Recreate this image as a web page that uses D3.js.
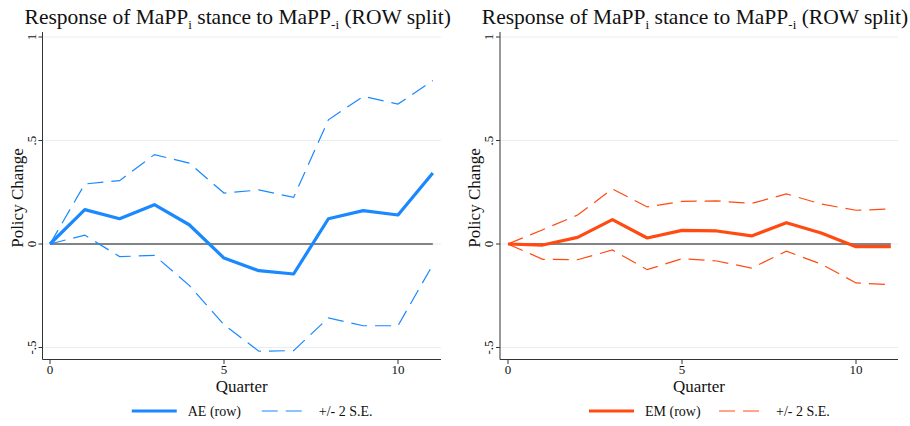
<!DOCTYPE html><html><head><meta charset="utf-8"><script src="https://cdn.jsdelivr.net/npm/d3@7"></script>
<style>body{margin:0;background:#fff}text{font-family:"Liberation Serif","DejaVu Serif",serif;fill:#111}</style></head><body>
<svg id="c" width="910" height="426"></svg>
<script>
const quarters=[0,1,2,3,4,5,6,7,8,9,10,11];
const yTicks=[-0.5,0,0.5,1];
const yTickLabels=["-.5","0",".5","1"];
const xTicks=[0,5,10];
const aeMain=[0,.166,.122,.19,.093,-.068,-.129,-.145,.122,.161,.14,.343];
const aeUpper=[0,.29,.306,.432,.391,.246,.261,.225,.60,.713,.676,.79];
const aeLower=[0,.043,-.061,-.055,-.2,-.39,-.518,-.515,-.357,-.395,-.395,-.1];
const emMain=[0,-.005,.032,.118,.029,.066,.063,.039,.103,.053,-.013,-.013];
const emUpper=[0,.069,.14,.266,.179,.206,.208,.196,.242,.193,.163,.169];
const emLower=[0,-.074,-.076,-.029,-.124,-.071,-.082,-.116,-.035,-.097,-.188,-.196];
const svg=d3.select("#c");
function panel(ox,axX,right,main,up,lo,color,label){
  const g=svg.append("g");
  const x=d3.scaleLinear().domain([0,10]).range([ox,ox+348]);
  const y=d3.scaleLinear().domain([-0.5,1]).range([347.5,37]);
  g.selectAll(".gl").data(yTicks).join("line").attr("x1",axX).attr("x2",right).attr("y1",d=>y(d)).attr("y2",d=>y(d)).attr("stroke","#e6eef2").attr("stroke-width",1);
  g.append("line").attr("x1",axX).attr("x2",axX).attr("y1",32).attr("y2",359.5).attr("stroke","#333");
  g.append("line").attr("x1",axX).attr("x2",right).attr("y1",359.5).attr("y2",359.5).attr("stroke","#333");
  yTicks.forEach((t,i)=>{g.append("line").attr("x1",axX-4).attr("x2",axX).attr("y1",y(t)).attr("y2",y(t)).attr("stroke","#333");
    g.append("text").attr("transform",`translate(${axX-7},${y(t)}) rotate(-90)`).attr("text-anchor","middle").attr("font-size",13).text(yTickLabels[i]);});
  xTicks.forEach(t=>{g.append("line").attr("x1",x(t)).attr("x2",x(t)).attr("y1",359.5).attr("y2",364).attr("stroke","#333");
    g.append("text").attr("x",x(t)).attr("y",374).attr("text-anchor","middle").attr("font-size",13).text(t);});
  g.append("text").attr("x",(axX+right)/2).attr("y",392).attr("text-anchor","middle").attr("font-size",17).text("Quarter");
  g.append("text").attr("transform",`translate(${axX-20},${(37+359)/2}) rotate(-90)`).attr("text-anchor","middle").attr("font-size",17).text("Policy Change");
  const t=g.append("text").attr("x",(axX+right)/2-4).attr("y",24).attr("text-anchor","middle").attr("font-size",21.5);
  t.append("tspan").text("Response of MaPP");
  t.append("tspan").attr("font-size",13).attr("dy",5).text("i");
  t.append("tspan").attr("dy",-5).text(" stance to MaPP");
  t.append("tspan").attr("font-size",13).attr("dy",5).text("-i");
  t.append("tspan").attr("dy",-5).text(" (ROW split)");
  g.append("line").attr("x1",x(0)).attr("x2",x(11)).attr("y1",y(0)).attr("y2",y(0)).attr("stroke","#111").attr("stroke-width",1.2);
  const line=d3.line().x((d,i)=>x(quarters[i])).y(d=>y(d));
  [up,lo].forEach(s=>g.append("path").attr("d",line(s)).attr("fill","none").attr("stroke",color).attr("stroke-width",1.2).attr("stroke-dasharray","16,8"));
  g.append("path").attr("d",line(main)).attr("fill","none").attr("stroke",color).attr("stroke-width",3.2).attr("stroke-linejoin","round");
  const lx=(axX+right)/2-110;
  g.append("line").attr("x1",lx).attr("x2",lx+45).attr("y1",411).attr("y2",411).attr("stroke",color).attr("stroke-width",3.2);
  g.append("text").attr("x",lx+56).attr("y",416).attr("font-size",14).text(label);
  g.append("line").attr("x1",lx+130).attr("x2",lx+175).attr("y1",411).attr("y2",411).attr("stroke",color).attr("stroke-width",1.2).attr("stroke-dasharray","16,8");
  g.append("text").attr("x",lx+187).attr("y",416).attr("font-size",14).text("+/- 2 S.E.");
}
panel(50,42.5,441,aeMain,aeUpper,aeLower,"#1a88ff","AE (row)");
panel(508,500,898,emMain,emUpper,emLower,"#ff4b12","EM (row)");
</script></body></html>
